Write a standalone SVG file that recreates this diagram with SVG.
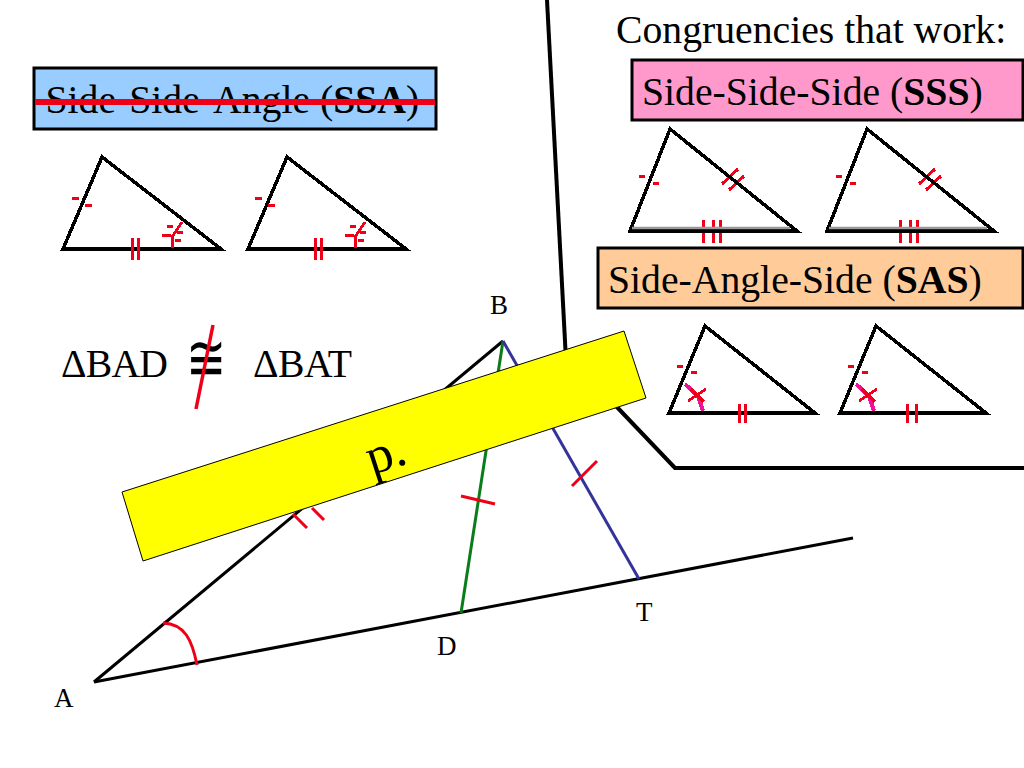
<svg xmlns="http://www.w3.org/2000/svg" width="1024" height="768" viewBox="0 0 1024 768">
<defs>
<style>
text{font-family:"Liberation Serif","Times New Roman",serif;fill:#000}
.t{font-size:39.7px}
.l{font-size:27px}
.box{stroke:#000;stroke-width:3}
.k{fill:none;stroke:#000;stroke-width:3.5;stroke-linejoin:miter;shape-rendering:crispEdges}
.r{fill:none;stroke:#ee0018;stroke-width:3;shape-rendering:crispEdges}
.r3{fill:none;stroke:#ee0018;stroke-width:3}
.p{fill:none;stroke:#f0109a;stroke-width:4;shape-rendering:crispEdges}
</style>
<path id="ssaOutline" class="k" d="M63 249L102 157L221 249Z"/>
<g id="ssaMarks">
<path class="r" d="M72 198h7M85 205h7M132 238v22M138 238v22"/>
<path class="r" d="M172 248v-11L182 222M167 226h6M162 235h9M177 232h6M175 240h6"/>
</g>
<g id="sssTri">
<path class="r" d="M639 176h6M653 183h6M703 220v23M713 220v23M720 220v23M722 184L738 169M729 190L744 176"/>
<path class="k" d="M630 231L670 129L797 231Z"/>
<path d="M632 228H790" stroke="#999" stroke-width="2.5"/>
</g>
<path id="sasOutline" class="k" d="M669 413L705 326L815 413Z"/>
<g id="sasMarks">
<path class="r" d="M677 366h6M691 372h6"/>
<path class="p" d="M685 384L698 396L703 411"/>
<path class="r" d="M688 401L706 389M691 389L704 402"/>
</g>
</defs>
<rect width="1024" height="768" fill="#fff"/>
<g id="connectors">
<path d="M547 0L566 360" stroke="#000" stroke-width="4" fill="none"/>
<path d="M615 405L675 468H1024" stroke="#000" stroke-width="4" fill="none"/>
<path d="M94 682L503 341" stroke="#000" stroke-width="3" fill="none"/>
<path d="M94 682L853 538" stroke="#000" stroke-width="3" fill="none"/>
<path d="M503 341L461 613" stroke="#0a7d1a" stroke-width="3" fill="none"/>
<path d="M503 341L639 579" stroke="#333399" stroke-width="3" fill="none"/>
<path class="r3" d="M163 623C185 624 192 640 197 665M293 514L307 528M312 508L324 520M461 496L495 504M572 486L597 461"/>
</g>
<g id="ssa-label">
<rect class="box" x="34" y="68" width="402" height="61" fill="#99ccff"/>
<text class="t" x="45.5" y="113">Side-Side-Angle (<tspan font-weight="bold">SSA</tspan>)</text>
<path d="M35 102H435" stroke="#ee0018" stroke-width="6"/>
</g>
<g id="ssa-tri-1"><use href="#ssaOutline"/><use href="#ssaMarks"/></g>
<g id="ssa-tri-2"><use href="#ssaOutline" x="185"/><use href="#ssaMarks" x="183"/></g>
<g id="congruencies"><text class="t" x="616" y="43">Congruencies that work:</text></g>
<g id="sss-label">
<rect class="box" x="632" y="60" width="391" height="60" fill="#ff99cc"/>
<text class="t" x="642" y="105">Side-Side-Side (<tspan font-weight="bold">SSS</tspan>)</text>
</g>
<g id="sss-tri-1"><use href="#sssTri"/></g>
<g id="sss-tri-2"><use href="#sssTri" x="197"/></g>
<g id="sas-label">
<rect class="box" x="598" y="248" width="425" height="60" fill="#ffcc99"/>
<text class="t" x="608" y="293">Side-Angle-Side (<tspan font-weight="bold">SAS</tspan>)</text>
</g>
<g id="sas-tri-1"><use href="#sasOutline"/><use href="#sasMarks"/><path class="r" d="M739 404v19M745 404v19"/></g>
<g id="sas-tri-2"><use href="#sasOutline" x="171"/><use href="#sasMarks" x="171"/><path class="r" d="M907 404v19M916 404v19"/></g>
<g id="statement">
<text class="t" x="61" y="377" textLength="107">ΔBAD</text>
<text class="t" x="253" y="377" textLength="99">ΔBAT</text>
<text transform="translate(186 379.5) scale(1 1.35)" font-size="48">≅</text>
<path d="M213 325L196 409" stroke="#ee0018" stroke-width="3.5"/>
</g>
<g id="note-p">
<path d="M122 492L624 331L646 398L143 561Z" fill="#ffff00" stroke="#000" stroke-width="1"/>
<text x="0" y="0" font-size="52" transform="translate(372 475) rotate(-18)">p.</text>
</g>
<g id="point-A"><text class="l" x="54" y="707">A</text></g>
<g id="point-B"><text class="l" x="490" y="314">B</text></g>
<g id="point-D"><text class="l" x="437" y="655">D</text></g>
<g id="point-T"><text class="l" x="636" y="621">T</text></g>
</svg>
